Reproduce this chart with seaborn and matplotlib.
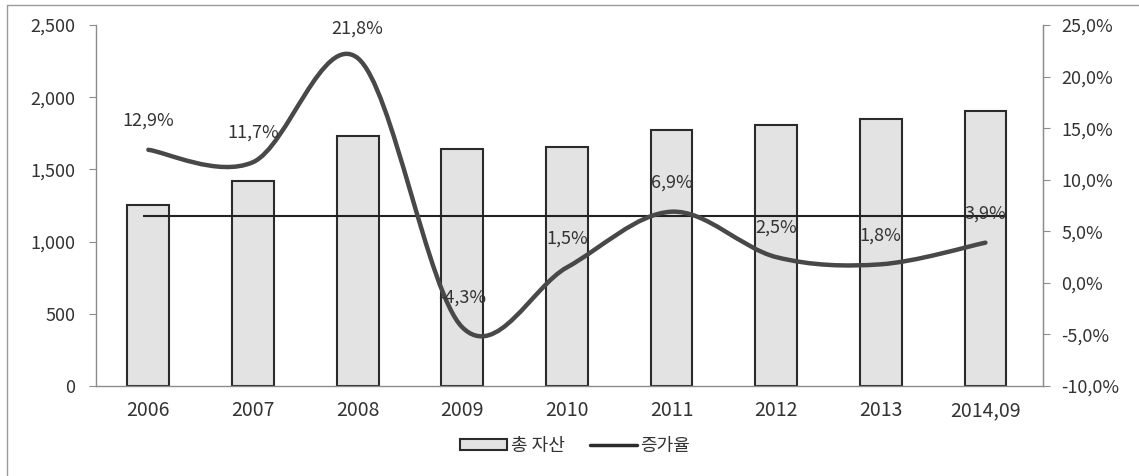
import numpy as np
import matplotlib
matplotlib.use('Agg')
import matplotlib.pyplot as plt
from matplotlib.path import Path
from matplotlib.patches import PathPatch, Patch
from matplotlib.lines import Line2D
import seaborn as sns

# data
years = ['2006', '2007', '2008', '2009', '2010', '2011', '2012', '2013', '2014,09']
total_assets = [1257, 1417, 1729, 1639, 1653, 1771, 1806, 1847, 1903]
growth_rate = [12.9, 11.7, 21.8, -4.3, 1.5, 6.9, 2.5, 1.8, 3.9]
growth_labels = ['12,9%', '11,7%', '21,8%', '-4,3%', '1,5%', '6,9%', '2,5%', '1,8%', '3,9%']
avg_growth = 6.5

left_ticks = [0, 500, 1000, 1500, 2000, 2500]
left_ticklabels = ['0', '500', '1,000', '1,500', '2,000', '2,500']
right_ticks = [-10, -5, 0, 5, 10, 15, 20, 25]
right_ticklabels = ['-10,0%', '-5,0%', '0,0%', '5,0%', '10,0%', '15,0%', '20,0%', '25,0%']

sns.set_style('white')
plt.rcParams['font.family'] = ['Noto Sans CJK KR', 'DejaVu Sans']

txt = '#333333'
spine = '#8c8c8c'

fig = plt.figure(figsize=(11.39, 4.76), dpi=100)
ax = fig.add_axes([0.0843, 0.189, 0.8314, 0.7585])

# bars
sns.barplot(x=years, y=total_assets, color='#e3e3e3', width=0.4,
            edgecolor='#2b2b2b', linewidth=1.5, saturation=1, ax=ax, zorder=2)
ax.set_xlim(-0.5, 8.55)
ax.set_ylim(0, 2500)
ax.set_yticks(left_ticks)
ax.set_yticklabels(left_ticklabels)
ax.set_xlabel('')
ax.set_ylabel('')
ax.set_xticks(np.arange(len(years)))
ax.set_xticklabels(years)
ax.set_xticks(np.arange(len(years) + 1) - 0.5, minor=True)
ax.tick_params(axis='x', which='major', length=0, pad=10, labelsize=14, labelcolor=txt)
ax.tick_params(axis='x', which='minor', length=5, color=spine, direction='out')
ax.tick_params(axis='y', length=5, color=spine, direction='out', pad=10,
               labelsize=13, labelcolor=txt)

for s in ['top']:
    ax.spines[s].set_visible(False)
for s in ['left', 'bottom', 'right']:
    ax.spines[s].set_color(spine)
    ax.spines[s].set_linewidth(1.0)

# growth rate on the right axis
ax2 = ax.twinx()
ax2.set_ylim(-10, 25)
ax2.set_yticks(right_ticks)
ax2.set_yticklabels(right_ticklabels)
ax2.tick_params(axis='y', length=5, color=spine, direction='out', pad=8,
                labelsize=13, labelcolor=txt)
for s in ['top', 'left', 'bottom']:
    ax2.spines[s].set_visible(False)
ax2.spines['right'].set_color(spine)
ax2.grid(False)

# average line
ax2.hlines(avg_growth, -0.05, len(years) - 1 + 0.2, color='#222222', linewidth=1.5, zorder=3)

# smoothed growth line (Excel style smoothing through the data points)
pts = np.column_stack([np.arange(len(growth_rate)), growth_rate]).astype(float)
n = len(pts)
verts = [pts[0]]
codes = [Path.MOVETO]
for i in range(n - 1):
    p0 = pts[i - 1] if i > 0 else pts[i]
    p3 = pts[i + 2] if i + 2 < n else pts[i + 1]
    c1 = pts[i] + (pts[i + 1] - p0) / 6
    c2 = pts[i + 1] - (p3 - pts[i]) / 6
    verts += [c1, c2, pts[i + 1]]
    codes += [Path.CURVE4] * 3
ax2.add_patch(PathPatch(Path(verts, codes), facecolor='none', edgecolor='#484848',
                        linewidth=3.2, capstyle='round', zorder=4))

for i, (v, lab) in enumerate(zip(growth_rate, growth_labels)):
    ax2.annotate(lab, (i, v), xytext=(0, 21), textcoords='offset points',
                 ha='center', va='center', fontsize=13, color=txt, zorder=5)

# legend
handles = [Patch(facecolor='#e3e3e3', edgecolor='#2b2b2b', linewidth=1.5),
           Line2D([0], [0], color='#2b2b2b', linewidth=2.5)]
fig.legend(handles, ['총 자산', '증가율'], loc='center', bbox_to_anchor=(0.505, 0.063),
           ncol=2, frameon=False, fontsize=13, handlelength=2.6, handleheight=0.5,
           handletextpad=0.2, columnspacing=1.4, labelcolor=txt)

# outer frame on the left and top
fig.add_artist(Line2D([0.006, 0.006], [0.0, 0.99], color='#9a9a9a', linewidth=1.0))
fig.add_artist(Line2D([0.006, 1.0], [0.99, 0.99], color='#9a9a9a', linewidth=1.0))

plt.savefig('out.png', dpi=100)
plt.close()
